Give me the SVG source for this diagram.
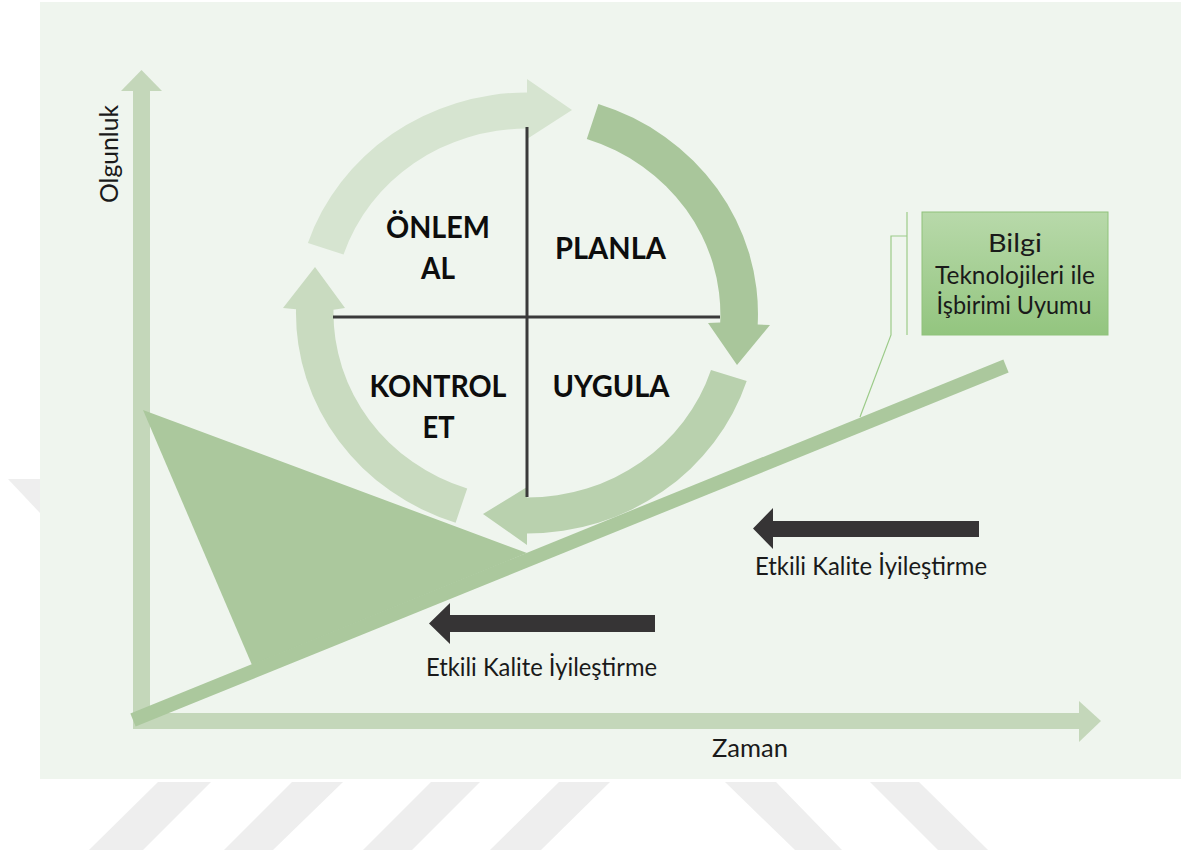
<svg xmlns="http://www.w3.org/2000/svg" width="1181" height="854" viewBox="0 0 1181 854">
  <style>
    .stripe { fill: #eeeeee; }
    .axis { fill: #c4d7ba; }
    .ramp { fill: #abc89d; }
    .cross { stroke: #3a3a3a; stroke-width: 3; fill: none; }
    .phase { font-family: Lato, "Open Sans", "Liberation Sans", sans-serif; font-weight: 700; font-size: 30px; fill: #0d0d0d; text-anchor: middle; }
    .lbl { font-family: Lato, "Open Sans", "Liberation Sans", sans-serif; font-size: 25px; fill: #1a1a1a; }
    .push { fill: #363435; }
    .leader { stroke: #9ccb89; stroke-width: 1.2; fill: none; }
  </style>
  <defs>
    <linearGradient id="boxFill" x1="0" y1="0" x2="0" y2="1">
      <stop offset="0" stop-color="#b8d9aa"/>
      <stop offset="1" stop-color="#93c57f"/>
    </linearGradient>
  </defs>

  <!-- page and light panel -->
  <rect x="0" y="0" width="1181" height="854" fill="#ffffff"/>
  <g id="watermark">
    <polygon class="stripe" points="158,782 211,782 143,850 89,850"/>
    <polygon class="stripe" points="292,782 343,782 273,850 224,850"/>
    <polygon class="stripe" points="431,782 480,782 412,850 363,850"/>
    <polygon class="stripe" points="559,782 610,782 541,850 490,850"/>
    <polygon class="stripe" points="725,782 776,782 842,850 795,850"/>
    <polygon class="stripe" points="870,782 919,782 988,850 938,850"/>
    <polygon class="stripe" points="8,479 40,479 40,513"/>
  </g>
  <rect id="panel" x="40" y="2" width="1141" height="777" fill="#eff5ee"/>

  <!-- axes -->
  <g id="axes">
    <rect class="axis" x="133" y="90" width="17" height="639"/>
    <polygon class="axis" points="121,91 141.5,70 162,91"/>
    <rect class="axis" x="133" y="713" width="947" height="16"/>
    <polygon class="axis" points="1079,701 1101,721 1079,742"/>
    <text class="lbl" transform="translate(118,203) rotate(-90)" textLength="98" lengthAdjust="spacingAndGlyphs" font-size="23">Olgunluk</text>
    <text class="lbl" x="712" y="757" textLength="76" lengthAdjust="spacingAndGlyphs">Zaman</text>
  </g>

  <!-- four-phase cycle: elliptical ring segments ending in arrowheads -->
  <g id="cycle">
    <path id="arc-onlem" fill="#d6e4d0" d="M307.9,243 A231,220.5 0 0,1 527,92.5 L527,79 L572,110 L527,139 L527,128.5 A193.5,184.5 0 0,0 343.5,254.5 Z"/>
    <path id="arc-planla" fill="#a9c69b" d="M598.4,104 A231,220.5 0 0,1 757.7,324.5 L770,325 L737,365 L708,323 L720.2,322.6 A193.5,184.5 0 0,0 586.8,139 Z"/>
    <path id="arc-uygula" fill="#b9d1ae" d="M746.7,381.1 A231,220.5 0 0,1 527,533.5 L527,545 L483,514 L527,487 L527,497.5 A193.5,184.5 0 0,0 711,370 Z"/>
    <path id="arc-kontrol" fill="#c9dbc0" d="M455.6,522.7 A231,220.5 0 0,1 296,309.2 L283,308 L315,267 L345,308 L333.5,309.8 A193.5,184.5 0 0,0 467.2,488.5 Z"/>
    <line class="cross" x1="527" y1="127" x2="527" y2="497"/>
    <line class="cross" x1="333" y1="317" x2="720" y2="317"/>
  </g>

  <g id="node-onlem">
    <text class="phase" x="438" y="238" textLength="104" lengthAdjust="spacingAndGlyphs">ÖNLEM</text>
    <text class="phase" x="438" y="279" textLength="34" lengthAdjust="spacingAndGlyphs">AL</text>
  </g>
  <g id="node-planla">
    <text class="phase" x="610.5" y="259" textLength="111" lengthAdjust="spacingAndGlyphs">PLANLA</text>
  </g>
  <g id="node-uygula">
    <text class="phase" x="611" y="397" textLength="117" lengthAdjust="spacingAndGlyphs">UYGULA</text>
  </g>
  <g id="node-kontrol">
    <text class="phase" x="438" y="397" textLength="137" lengthAdjust="spacingAndGlyphs">KONTROL</text>
    <text class="phase" x="438.5" y="438" textLength="32" lengthAdjust="spacingAndGlyphs">ET</text>
  </g>

  <!-- maturity wedge and rising improvement line -->
  <g id="maturity">
    <polygon class="ramp" points="143,410 527,553 252,665"/>
    <line x1="133" y1="720" x2="1006" y2="366" stroke="#abc89d" stroke-width="14"/>
  </g>

  <!-- callout leader -->
  <g id="connectors">
    <line class="leader" x1="907" y1="212" x2="907" y2="335"/>
    <polyline class="leader" points="907,236 891,236 891,335 860,417"/>
  </g>

  <g id="node-bilgi">
    <rect x="922" y="212" width="186" height="123" fill="url(#boxFill)" stroke="#8fc27b" stroke-width="1"/>
    <text class="lbl" x="1015" y="252" text-anchor="middle" textLength="54" lengthAdjust="spacingAndGlyphs">Bilgi</text>
    <text class="lbl" x="1015" y="284" text-anchor="middle" textLength="160" lengthAdjust="spacingAndGlyphs">Teknolojileri ile</text>
    <text class="lbl" x="1014" y="314" text-anchor="middle" textLength="155" lengthAdjust="spacingAndGlyphs">İşbirimi Uyumu</text>
  </g>

  <!-- improvement push arrows -->
  <g id="node-improve-right">
    <polygon class="push" points="753,528.5 773,508 773,521 979,521 979,537 773,537 773,549"/>
    <text class="lbl" x="755" y="575" textLength="232" lengthAdjust="spacingAndGlyphs">Etkili Kalite İyileştirme</text>
  </g>
  <g id="node-improve-left">
    <polygon class="push" points="429,623.5 450,603 450,615 655,615 655,632 450,632 450,644"/>
    <text class="lbl" x="426" y="676" textLength="231" lengthAdjust="spacingAndGlyphs">Etkili Kalite İyileştirme</text>
  </g>
</svg>
